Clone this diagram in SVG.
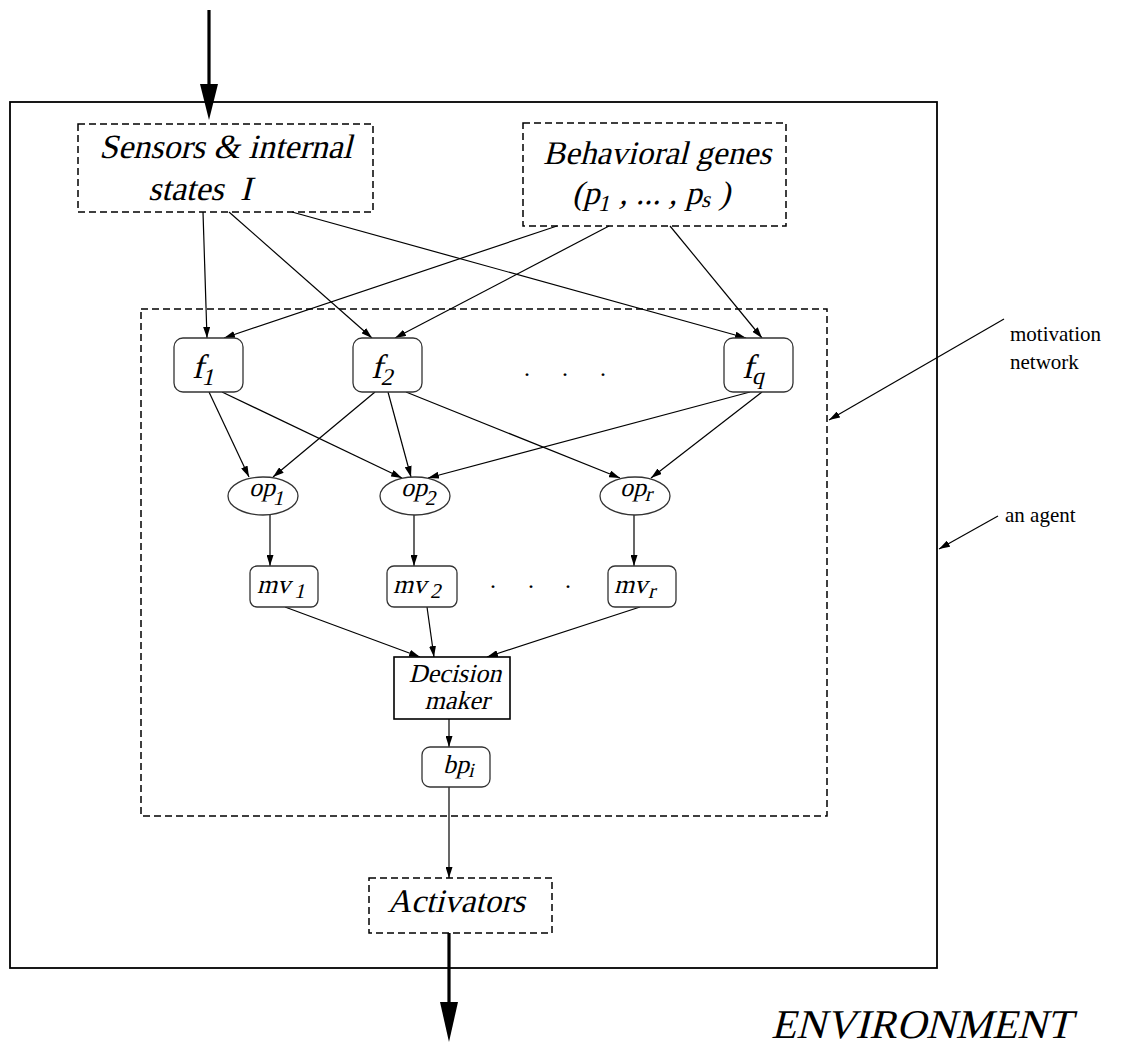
<svg xmlns="http://www.w3.org/2000/svg" width="1126" height="1047" viewBox="0 0 1126 1047">
  <style>
    .frame { fill: none; stroke: #000; stroke-width: 1.8; }
    .dash { fill: none; stroke: #000; stroke-width: 1.5; stroke-dasharray: 7 4; }
    .node { fill: #fff; stroke: #333; stroke-width: 1.3; }
    .box { fill: #fff; stroke: #000; stroke-width: 1.6; }
    .edge { fill: none; stroke: #000; stroke-width: 1.2; marker-end: url(#ah); }
    .thick { fill: none; stroke: #000; stroke-width: 3.2; }
    /* slanted serif lettering for node labels */
    .it { font-family: "Liberation Serif", "Times New Roman", serif; fill: #000; }
    .rm { font-family: "Liberation Serif", "Times New Roman", serif; fill: #000; }
  </style>
  <defs>
    <marker id="ah" viewBox="0 0 11 7" refX="11" refY="3.5" markerWidth="11" markerHeight="7" markerUnits="userSpaceOnUse" orient="auto">
      <path d="M0,0 L11,3.5 L0,7 z" fill="#000"/>
    </marker>
  </defs>

  <rect width="1126" height="1047" fill="#fff"/>

  <!-- agent boundary and motivation network region -->
  <rect id="agent" class="frame" x="10" y="102" width="927" height="866"/>
  <rect id="motivation-network" class="dash" x="141" y="309" width="686" height="507"/>

  <!-- connectors -->
  <g id="connectors">
    <line class="thick" x1="209" y1="10" x2="209" y2="86"/>
    <polygon points="200,84 218,84 209,120" fill="#000"/>
    <line class="thick" x1="449" y1="933" x2="449" y2="1005"/>
    <polygon points="440,1002 458,1002 449,1042" fill="#000"/>

    <line class="edge" x1="203" y1="212" x2="207" y2="338"/>
    <line class="edge" x1="229" y1="212" x2="372" y2="338"/>
    <line class="edge" x1="292" y1="212" x2="746" y2="338"/>
    <line class="edge" x1="557" y1="226" x2="224" y2="338"/>
    <line class="edge" x1="609" y1="226" x2="395" y2="338"/>
    <line class="edge" x1="670" y1="226" x2="762" y2="338"/>

    <line class="edge" x1="209" y1="392" x2="249" y2="477"/>
    <line class="edge" x1="222" y1="392" x2="402" y2="478"/>
    <line class="edge" x1="375" y1="392" x2="273" y2="477"/>
    <line class="edge" x1="388" y1="392" x2="411" y2="477"/>
    <line class="edge" x1="406" y1="392" x2="620" y2="478"/>
    <line class="edge" x1="750" y1="392" x2="428" y2="478"/>
    <line class="edge" x1="762" y1="392" x2="651" y2="478"/>

    <line class="edge" x1="270" y1="515" x2="270" y2="566"/>
    <line class="edge" x1="414" y1="515" x2="414" y2="566"/>
    <line class="edge" x1="634" y1="515" x2="634" y2="566"/>

    <line class="edge" x1="285" y1="607" x2="420" y2="657"/>
    <line class="edge" x1="427" y1="607" x2="434" y2="657"/>
    <line class="edge" x1="640" y1="607" x2="487" y2="657"/>

    <line class="edge" x1="449" y1="719" x2="449" y2="747"/>
    <line class="edge" x1="449" y1="787" x2="449" y2="878"/>

    <line class="edge" x1="1004" y1="319" x2="829" y2="420"/>
    <line class="edge" x1="998" y1="516" x2="939" y2="549"/>
  </g>

  <!-- inputs -->
  <g id="sensors">
    <rect class="dash" x="78" y="124" width="295" height="88"/>
    <text class="it" transform="translate(99,158) skewX(-14)" font-size="34">Sensors &amp; internal</text>
    <text class="it" transform="translate(148,200) skewX(-14)" font-size="34">states</text>
    <text class="it" transform="translate(240,200) skewX(-14)" font-size="34">I</text>
  </g>
  <g id="behavioral-genes">
    <rect class="dash" x="523" y="123" width="263" height="103"/>
    <text class="it" transform="translate(543,164) skewX(-14)" font-size="33">Behavioral genes</text>
    <text class="it" transform="translate(572,204) skewX(-14)" font-size="33">(p<tspan font-size="23" dy="7">1</tspan><tspan dy="-7"> , ... , p</tspan><tspan font-size="23" dy="3">s</tspan><tspan dy="-3"> )</tspan></text>
  </g>

  <!-- motivation functions -->
  <g id="f1">
    <rect class="node" x="174" y="338" width="69" height="54" rx="9"/>
    <text class="it" transform="translate(192,378) skewX(-14)" font-size="34">f<tspan font-size="24" dy="7">1</tspan></text>
  </g>
  <g id="f2">
    <rect class="node" x="353" y="338" width="69" height="54" rx="9"/>
    <text class="it" transform="translate(371,378) skewX(-14)" font-size="34">f<tspan font-size="24" dy="7">2</tspan></text>
  </g>
  <g id="fq">
    <rect class="node" x="724" y="338" width="69" height="54" rx="9"/>
    <text class="it" transform="translate(742,378) skewX(-14)" font-size="34">f<tspan font-size="24" dy="6">q</tspan></text>
  </g>
  <g id="f-dots">
    <text class="rm" x="524" y="376" font-size="24">.</text>
    <text class="rm" x="562" y="376" font-size="24">.</text>
    <text class="rm" x="600" y="376" font-size="24">.</text>
  </g>

  <!-- operators -->
  <g id="op1">
    <ellipse class="node" cx="263" cy="496" rx="35" ry="19"/>
    <text class="it" transform="translate(249,496) skewX(-14)" font-size="26">op<tspan font-size="21" dy="9">1</tspan></text>
  </g>
  <g id="op2">
    <ellipse class="node" cx="415" cy="496" rx="35" ry="19"/>
    <text class="it" transform="translate(401,496) skewX(-14)" font-size="26">op<tspan font-size="21" dy="9">2</tspan></text>
  </g>
  <g id="opr">
    <ellipse class="node" cx="635" cy="496" rx="35" ry="19"/>
    <text class="it" transform="translate(620,496) skewX(-14)" font-size="26">op<tspan font-size="21" dy="5">r</tspan></text>
  </g>

  <!-- motivation values -->
  <g id="mv1">
    <rect class="node" x="250" y="566" width="68" height="41" rx="7"/>
    <text class="it" transform="translate(257,593) skewX(-14)" font-size="26">mv<tspan font-size="21" dx="5" dy="5">1</tspan></text>
  </g>
  <g id="mv2">
    <rect class="node" x="387" y="566" width="70" height="41" rx="7"/>
    <text class="it" transform="translate(393,593) skewX(-14)" font-size="26">mv<tspan font-size="21" dx="5" dy="5">2</tspan></text>
  </g>
  <g id="mvr">
    <rect class="node" x="608" y="566" width="68" height="41" rx="7"/>
    <text class="it" transform="translate(614,593) skewX(-14)" font-size="26">mv<tspan font-size="21" dx="2" dy="5">r</tspan></text>
  </g>
  <g id="mv-dots">
    <text class="rm" x="490" y="588" font-size="24">.</text>
    <text class="rm" x="528" y="588" font-size="24">.</text>
    <text class="rm" x="565" y="588" font-size="24">.</text>
  </g>

  <!-- decision and output -->
  <g id="decision-maker">
    <rect class="box" x="394" y="657" width="116" height="62"/>
    <text class="it" transform="translate(455,682) skewX(-14)" font-size="26" text-anchor="middle">Decision</text>
    <text class="it" transform="translate(457,709) skewX(-14)" font-size="26" text-anchor="middle">maker</text>
  </g>
  <g id="bp">
    <rect class="node" x="422" y="747" width="68" height="40" rx="8"/>
    <text class="it" transform="translate(443,773) skewX(-14)" font-size="26">bp<tspan font-size="20" dy="4">i</tspan></text>
  </g>
  <g id="activators">
    <rect class="dash" x="369" y="878" width="183" height="55"/>
    <text class="it" transform="translate(456,912) skewX(-14)" font-size="33" text-anchor="middle">Activators</text>
  </g>

  <!-- annotations -->
  <g id="labels">
    <text class="rm" x="1010" y="341" font-size="21">motivation</text>
    <text class="rm" x="1010" y="369" font-size="21">network</text>
    <text class="rm" x="1005" y="522" font-size="21">an agent</text>
    <text class="it" transform="translate(771,1038) skewX(-14)" font-size="41">ENVIRONMENT</text>
  </g>
</svg>
